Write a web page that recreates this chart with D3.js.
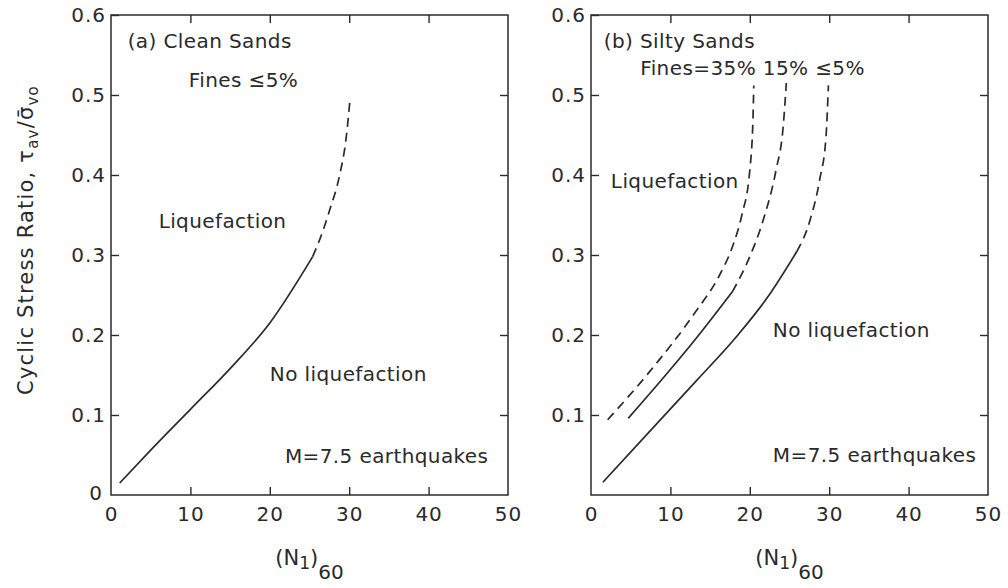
<!DOCTYPE html>
<html>
<head>
<meta charset="utf-8">
<script src="https://cdn.jsdelivr.net/npm/d3@7"></script>
<style>
  body { margin: 0; background: #fff; }
  text { font-family: "DejaVu Sans", sans-serif; fill: #2a2a2a; }
</style>
</head>
<body>
<div id="chart"></div>
<script>
// Achsen
var xTicks = [0, 10, 20, 30, 40, 50]
var yTicks = [0, 0.1, 0.2, 0.3, 0.4, 0.5, 0.6]

// (a) Clean Sands, Punkte [ (N1)60 , CSR ]
var cleanSolid  = [[1.1, 0.015], [5, 0.056], [10, 0.107], [15, 0.158], [20, 0.215], [25.4, 0.298]]
var cleanDashed = [[25.4, 0.298], [26.5, 0.325], [27.6, 0.358], [28.8, 0.40], [29.6, 0.445], [30.1, 0.494]]

// (b) Silty Sands
var fines5Solid   = [[1.5, 0.016], [7.8, 0.084], [13.2, 0.142], [18.5, 0.2], [22.3, 0.248], [25.9, 0.304]]
var fines5Dashed  = [[25.9, 0.304], [27.6, 0.344], [28.8, 0.394], [29.6, 0.448], [29.9, 0.512]]
var fines15Solid  = [[4.7, 0.096], [8.9, 0.144], [13.1, 0.194], [17.8, 0.254]]
var fines15Dashed = [[17.8, 0.254], [20.0, 0.298], [21.7, 0.344], [23.3, 0.406], [24.2, 0.46], [24.6, 0.515]]
var fines35Dashed = [[2.1, 0.094], [7.2, 0.152], [13.1, 0.228], [16.2, 0.275], [17.8, 0.31], [19.0, 0.35], [20.0, 0.406], [20.4, 0.47], [20.5, 0.512]]

// Beschriftungen [text, N, CSR]
var labelsA = [["(a) Clean Sands", 2.1, 0.559], ["Fines ≤5%", 9.8, 0.51], ["Liquefaction", 6.0, 0.334],
               ["No liquefaction", 20.0, 0.1425], ["M=7.5 earthquakes", 21.9, 0.04]]
var labelsB = [["(b) Silty Sands", 1.6, 0.559], ["Fines=35% 15% ≤5%", 6.2, 0.525], ["Liquefaction", 2.5, 0.384],
               ["No liquefaction", 22.9, 0.1975], ["M=7.5 earthquakes", 22.9, 0.041]]

var width = 1008
var height = 588
var plotTop = 15, plotBottom = 495

var svg = d3.select("#chart").append("svg")
  .attr("width", width)
  .attr("height", height)

var panels = [
  {x0: 111, x1: 508, solid: [cleanSolid], dashed: [cleanDashed], labels: labelsA, zero: true},
  {x0: 591, x1: 988, solid: [fines5Solid, fines15Solid], dashed: [fines5Dashed, fines15Dashed, fines35Dashed], labels: labelsB, zero: false}
]

var y = d3.scaleLinear().domain([0, 0.6]).range([plotBottom, plotTop])

panels.forEach(function(p){
  var x = d3.scaleLinear().domain([0, 50]).range([p.x0, p.x1])
  var g = svg.append("g")

  // Rahmen
  g.append("rect")
    .attr("x", p.x0).attr("y", plotTop)
    .attr("width", p.x1 - p.x0).attr("height", plotBottom - plotTop)
    .attr("fill", "none").attr("stroke", "#2a2a2a").attr("stroke-width", 1.5)

  var fmtY = function(d){ return d == 0 ? "0" : d3.format(".1f")(d) }
  var inner = function(arr){ return arr.filter(function(d,i){ return i > 0 && i < arr.length - 1 }) }

  // Achsen mit Ticks nach innen
  var axL = g.append("g").attr("transform", "translate(" + p.x0 + ",0)")
    .call(d3.axisLeft(y).tickValues(yTicks.slice(1)).tickSizeInner(-8).tickSizeOuter(0).tickPadding(5).tickFormat(fmtY))
  var axR = g.append("g").attr("transform", "translate(" + p.x1 + ",0)")
    .call(d3.axisRight(y).tickValues(inner(yTicks)).tickSizeInner(-8).tickSizeOuter(0).tickFormat(""))
  var axB = g.append("g").attr("transform", "translate(0," + plotBottom + ")")
    .call(d3.axisBottom(x).tickValues(xTicks).tickSizeInner(-8).tickSizeOuter(0).tickPadding(12))
  var axT = g.append("g").attr("transform", "translate(0," + plotTop + ")")
    .call(d3.axisTop(x).tickValues(inner(xTicks)).tickSizeInner(-8).tickSizeOuter(0).tickFormat(""))

  ;[axL, axR, axB, axT].forEach(function(a){
    a.select(".domain").remove()
    a.selectAll("line").attr("stroke", "#2a2a2a").attr("stroke-width", 1.4)
    a.selectAll("text").attr("font-family", "DejaVu Sans").attr("font-size", 20)
      .attr("letter-spacing", 1).attr("fill", "#2a2a2a")
  })
  // Randticks bei 0 und 50 weglassen
  axB.selectAll(".tick line").filter(function(d){ return d == 0 || d == 50 }).remove()

  if (p.zero) {
    g.append("text").attr("x", p.x0 - 9).attr("y", plotBottom + 5)
      .attr("text-anchor", "end").attr("font-size", 20).text("0")
  }

  var line = d3.line()
    .x(function(d){ return x(d[0]) })
    .y(function(d){ return y(d[1]) })
    .curve(d3.curveMonotoneX)

  g.selectAll(".solid").data(p.solid).enter().append("path")
    .attr("d", line).attr("fill", "none")
    .attr("stroke", "#2a2a2a").attr("stroke-width", 1.7)
  g.selectAll(".dashed").data(p.dashed).enter().append("path")
    .attr("d", line).attr("fill", "none")
    .attr("stroke", "#2a2a2a").attr("stroke-width", 1.7)
    .style("stroke-dasharray", "9,6")

  g.selectAll(".lbl").data(p.labels).enter().append("text")
    .attr("x", function(d){ return x(d[1]) })
    .attr("y", function(d){ return y(d[2]) })
    .attr("font-size", 20)
    .attr("letter-spacing", 0.4)
    .text(function(d){ return d[0] })

  // x-Achsentitel (N1)60
  var t = g.append("text")
    .attr("x", (p.x0 + p.x1) / 2).attr("y", 565)
    .attr("text-anchor", "middle").attr("font-size", 21)
  t.append("tspan").text("(N")
  t.append("tspan").attr("dy", 4).attr("font-size", 17).text("1")
  t.append("tspan").attr("dy", -4).text(")")
  t.append("tspan").attr("dy", 14).attr("font-size", 20).text("60")
})

// y-Achsentitel
var yt = svg.append("text")
  .attr("transform", "translate(33,240) rotate(-90)")
  .attr("text-anchor", "middle")
  .attr("font-size", 21)
  .attr("letter-spacing", 1.2)
yt.append("tspan").text("Cyclic Stress Ratio, τ")
yt.append("tspan").attr("dy", 5).attr("font-size", 15).text("av")
yt.append("tspan").attr("dy", -5).text("/σ\u0304")
yt.append("tspan").attr("dy", 5).attr("font-size", 15).text("vo")
</script>
</body>
</html>
